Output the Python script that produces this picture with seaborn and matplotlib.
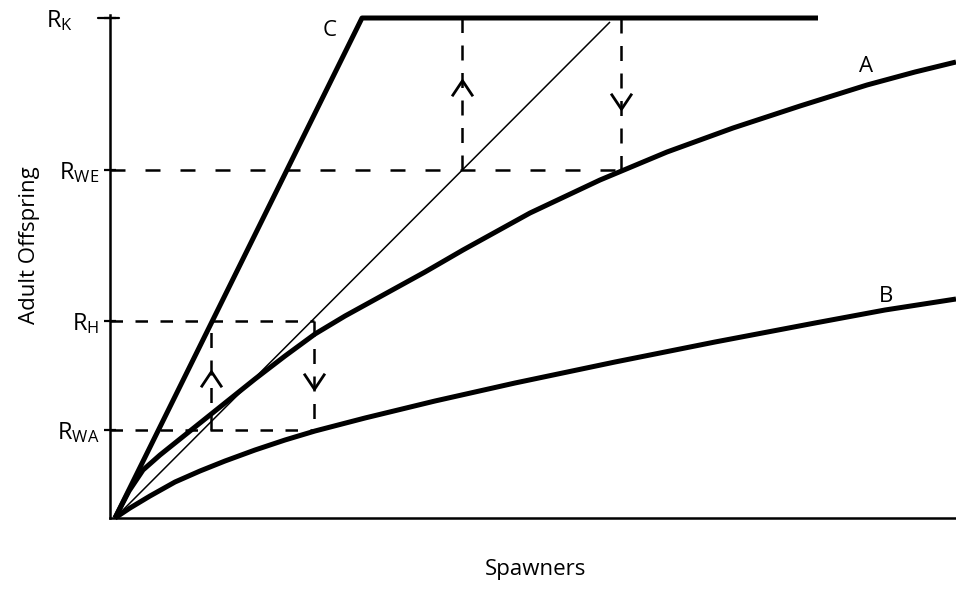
import matplotlib
matplotlib.use("Agg")
import matplotlib.pyplot as plt
from matplotlib.path import Path
from matplotlib.transforms import ScaledTranslation
import seaborn as sns

# Stock-recruitment curves (spawners vs. adult offspring, arbitrary units)
a_spawners = [0, 14, 28, 45, 65, 85, 110, 140, 170, 200, 230, 270, 310, 348,
              415, 485, 552, 618, 685, 752, 800, 841]
a_offspring = [0, 27, 48, 63, 79, 95, 115, 139, 162, 184, 202, 224, 246, 268,
               305, 338, 366, 390, 412, 433, 446, 456]

b_spawners = [0, 15, 35, 60, 85, 110, 140, 170, 200, 250, 320, 400, 500, 600, 700, 770, 841]
b_offspring = [0, 10, 22, 36, 47, 57, 68, 78, 87, 100, 117, 135, 156, 176, 195, 208, 219]

c_spawners = [0, 247, 703]
c_offspring = [0, 500, 500]

# Replacement line
rep_spawners = [0, 495]
rep_offspring = [0, 496]

# Reference recruitment levels on the y axis
level_values = [88, 197, 348, 500]
level_labels = [r"$\mathrm{R_{WA}}$", r"$\mathrm{R_{H}}$", r"$\mathrm{R_{WE}}$", r"$\mathrm{R_{K}}$"]

# Spawner abundances where the equilibria sit
s_hatchery_up = 96
s_hatchery_down = 199
s_wild_up = 347
s_wild_down = 506

sns.set_theme(style="white")
plt.rcParams["font.family"] = ["Open Sans", "DejaVu Sans"]
plt.rcParams["mathtext.fontset"] = "custom"
plt.rcParams["mathtext.rm"] = "Open Sans"
plt.rcParams["mathtext.it"] = "Open Sans:italic"
plt.rcParams["mathtext.bf"] = "Open Sans:bold"
plt.rcParams["text.color"] = "black"
plt.rcParams["ytick.color"] = "black"

fig = plt.figure(figsize=(9.56, 5.9), dpi=100)
ax = fig.add_axes([110 / 956, 72 / 590, 846 / 956, 500 / 590])
ax.set_xlim(-5, 841)
ax.set_ylim(0, 500)

thick = dict(color="black", linewidth=3.6, sort=False, estimator=None, legend=False, ax=ax)
sns.lineplot(x=a_spawners, y=a_offspring, **thick)
sns.lineplot(x=b_spawners, y=b_offspring, **thick)
sns.lineplot(x=c_spawners, y=c_offspring, **thick)
sns.lineplot(x=rep_spawners, y=rep_offspring, color="black", linewidth=1.1,
             sort=False, estimator=None, legend=False, ax=ax)
for ln in ax.lines:
    ln.set_clip_on(False)
    ln.set_solid_capstyle("butt")
    ln.set_solid_joinstyle("round")

r_wa, r_h, r_we, r_k = level_values
dash_kw = dict(color="black", linewidth=1.8, clip_on=False)

# Horizontal guides from the axis
ax.plot([-5, s_wild_down], [r_we, r_we], dashes=(6, 8), **dash_kw)
ax.plot([-5, s_hatchery_down], [r_h, r_h], dashes=(5, 5), **dash_kw)
ax.plot([-5, s_hatchery_down], [r_wa, r_wa], dashes=(5, 5), **dash_kw)

# Vertical transitions between equilibria
ax.plot([s_wild_up, s_wild_up], [r_we, r_k], dashes=(6, 5), **dash_kw)
ax.plot([s_wild_down, s_wild_down], [r_k, r_we], dashes=(6, 5), **dash_kw)
ax.plot([s_hatchery_up, s_hatchery_up], [r_wa, r_h], dashes=(6, 5), **dash_kw)
ax.plot([s_hatchery_down, s_hatchery_down], [r_h, r_wa], dashes=(6, 5), **dash_kw)

# Open chevron arrowheads on the vertical transitions
up = Path([(-1, -0.75), (0, 0.75), (1, -0.75)], [Path.MOVETO, Path.LINETO, Path.LINETO])
down = Path([(-1, 0.75), (0, -0.75), (1, 0.75)], [Path.MOVETO, Path.LINETO, Path.LINETO])
head_kw = dict(color="black", markersize=15, markeredgewidth=2.0, markerfacecolor="none",
               linestyle="none", clip_on=False)
ax.plot([s_wild_up], [430], marker=up, **head_kw)
ax.plot([s_wild_down], [417], marker=down, **head_kw)
ax.plot([s_hatchery_up], [139], marker=up, **head_kw)
ax.plot([s_hatchery_down], [137], marker=down, **head_kw)

# Curve labels
ax.text(215, 488, "C", fontsize=16, ha="center", va="center")
ax.text(751, 452, "A", fontsize=16, ha="center", va="center")
ax.text(771, 222, "B", fontsize=16, ha="center", va="center")

# Axes styling
for side in ("top", "right"):
    ax.spines[side].set_visible(False)
for side in ("left", "bottom"):
    ax.spines[side].set_color("black")
    ax.spines[side].set_linewidth(1.8)
ax.spines["left"].set_bounds(0, 503)

ax.set_xticks([])
ax.set_yticks(level_values)
ax.set_yticklabels(level_labels)
ax.tick_params(axis="y", direction="inout", length=9, width=1.6, color="black",
               labelcolor="black", labelsize=17, pad=3, left=True)
ax.tick_params(axis="x", bottom=False)
# Longer cap tick at the carrying-capacity level
ax.plot([-17, 4], [r_k, r_k], color="black", linewidth=1.6, clip_on=False)
k_tick = ax.yaxis.get_major_ticks()[3]
k_tick.label1.set_transform(k_tick.label1.get_transform() +
                            ScaledTranslation(-27 / 100, 0, fig.dpi_scale_trans))

fig.text(535 / 956, 1 - 570 / 590, "Spawners", fontsize=16, ha="center", va="center")
fig.text(30 / 956, 1 - 245 / 590, "Adult Offspring", fontsize=16, ha="center",
         va="center", rotation=90)

fig.savefig("out.png", dpi=100, facecolor="white")
